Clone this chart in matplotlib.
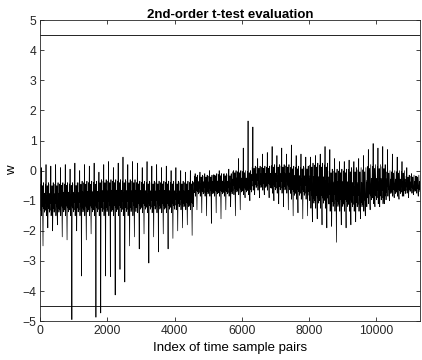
import numpy as np
import matplotlib.pyplot as plt

plt.rcParams['font.family'] = ['Liberation Sans', 'DejaVu Sans']

# data
n_samples = 11290
cycle_len = 143          # samples per spike cycle
threshold = 4.5

# tip of the upward spike in each cycle
hi_peaks = [0.1, 0.2, 0.15, 0.2, 0.1, 0.2, 0.05, 0.25, 0.0, 0.2,
            0.15, 0.25, -0.05, 0.2, 0.3, 0.1, 0.25, 0.45, 0.2, 0.3,
            0.25, 0.1, 0.3, 0.15, 0.2, 0.1, 0.15, 0.0, 0.1, 0.0,
            -0.05, 0.0, -0.1, -0.05, -0.1, 0.0, -0.15, 0.0, -0.1, 0.05,
            0.0, 0.4, 0.75, 1.65, 1.45, 0.4, 0.55, 0.6, 0.8, 0.5,
            0.75, 0.55, 0.85, 0.5, 0.55, 0.45, 0.45, 0.5, 0.55, 0.8,
            0.7, 0.4, 0.3, 0.3, 0.35, 0.3, 0.4, 0.5, 0.7, 0.9,
            0.75, 0.8, 0.7, 0.55, 0.45, 0.3, 0.1, -0.1, -0.2]
# bottom of the downward spike in each cycle
lo_peaks = [-2.5, -1.9, -2.0, -1.8, -2.2, -2.3, -4.95, -2.0, -3.5, -2.3,
            -2.1, -4.87, -4.73, -3.5, -3.52, -4.13, -3.28, -3.7, -2.5, -2.2,
            -2.6, -2.1, -3.07, -2.2, -2.7, -2.1, -2.6, -2.25, -2.0, -1.9,
            -1.8, -2.15, -1.3, -1.4, -1.5, -1.75, -1.4, -1.6, -1.3, -1.2,
            -1.5, -1.3, -0.9, -1.0, -0.8, -0.9, -0.8, -0.9, -1.0, -1.1,
            -1.2, -1.3, -1.5, -1.4, -1.6, -1.5, -1.7, -1.6, -1.8, -1.9,
            -1.85, -2.38, -1.8, -1.9, -1.8, -1.7, -1.6, -1.5, -1.3, -1.2,
            -1.2, -1.1, -1.0, -0.9, -0.95, -0.85, -0.9, -0.8, -0.85]
# dense core of the trace, one value per 4 cycles
band_mid = [-0.9, -0.85, -0.85, -0.8, -0.8, -0.8, -0.8, -0.8, -0.45, -0.45,
            -0.35, -0.2, -0.2, -0.3, -0.4, -0.55, -0.6, -0.45, -0.4, -0.45]
band_lo = [-1.5, -1.5, -1.5, -1.5, -1.5, -1.4, -1.4, -1.3, -0.85, -0.85,
           -0.8, -0.65, -0.75, -0.95, -1.25, -1.35, -1.35, -1.1, -0.85, -0.75]
band_hi = [-0.4, -0.4, -0.35, -0.3, -0.3, -0.35, -0.35, -0.35, -0.15, -0.1,
           0.0, 0.15, 0.2, 0.15, 0.25, 0.05, 0.1, 0.2, 0.0, -0.15]

# wiggle inside the band for one cycle (fraction of the band half-width)
wiggle = [0.2, -0.7, 0.9, -0.3, 0.6, -1.0, 0.1, -0.5,
          0.8, -0.9, 0.4, -0.2, 1.0, -0.6, 0.3, -0.8]
up_slot, down_slot = 4, 10

xs, ys = [], []
for k in range(len(hi_peaks)):
    seg = k // 4
    mid, lo, hi = band_mid[seg], band_lo[seg], band_hi[seg]
    for j, f in enumerate(wiggle):
        x = k * cycle_len + j * cycle_len / len(wiggle)
        if x > n_samples:
            break
        if j == up_slot:
            y = hi_peaks[k]
        elif j == down_slot:
            y = lo_peaks[k]
        elif f > 0:
            y = mid + f * (hi - mid)
        else:
            y = mid + f * (mid - lo)
        xs.append(x)
        ys.append(y)

fig = plt.figure(figsize=(4.22, 3.6), dpi=100)
ax = fig.add_axes([0.0948, 0.108, 0.9, 0.836])
ax.plot(xs, ys, color='black', linewidth=0.5)
ax.axhline(threshold, color='black', linewidth=0.6)
ax.axhline(-threshold, color='black', linewidth=0.6)

ax.set_xlim(0, n_samples)
ax.set_ylim(-5, 5)
ax.set_xticks(np.arange(0, 10001, 2000))
ax.set_yticks(np.arange(-5, 6, 1))
ax.tick_params(direction='in', length=3, width=0.6, top=True, right=True,
               labelsize=8.7, colors='#262626', pad=2.5)
for s in ax.spines.values():
    s.set_linewidth(0.6)
    s.set_color('#262626')

ax.set_title('2nd-order t-test evaluation', fontsize=9.5, fontweight='bold', pad=1.5)
ax.set_xlabel('Index of time sample pairs', fontsize=9.5, labelpad=4)
ax.set_ylabel('w', fontsize=9.5, labelpad=3)

fig.savefig('out.png', dpi=100)
